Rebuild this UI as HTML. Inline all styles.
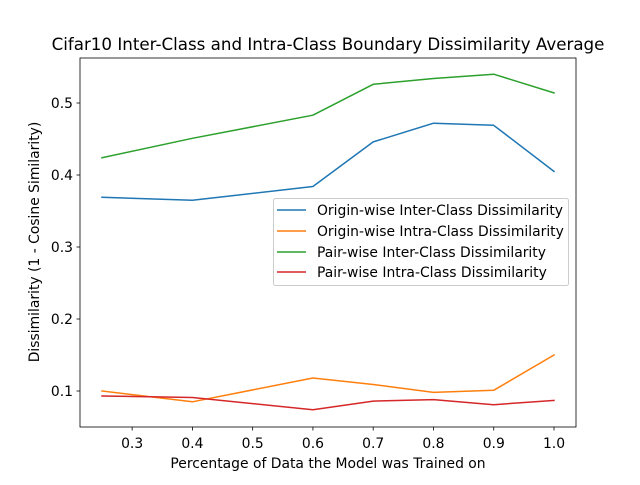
<!DOCTYPE html>
<html><head><meta charset="utf-8"><style>
body{margin:0;background:#fff;}
svg text{font-family:"DejaVu Sans","Liberation Sans",sans-serif;fill:#000;}
</style></head><body>
<svg id="chart" width="640" height="480" xmlns="http://www.w3.org/2000/svg">
<rect width="640" height="480" fill="#fff"/>
<g id="plot"></g>
</svg>
<script>
const xs = [0.25, 0.4, 0.6, 0.7, 0.8, 0.9, 1.0];
const originInter = [0.369, 0.365, 0.384, 0.446, 0.472, 0.469, 0.405];
const originIntra = [0.100, 0.085, 0.118, 0.109, 0.098, 0.101, 0.150];
const pairInter = [0.424, 0.451, 0.483, 0.526, 0.534, 0.540, 0.514];
const pairIntra = [0.093, 0.091, 0.074, 0.086, 0.088, 0.081, 0.087];
const seriesNames = ["Origin-wise Inter-Class Dissimilarity","Origin-wise Intra-Class Dissimilarity","Pair-wise Inter-Class Dissimilarity","Pair-wise Intra-Class Dissimilarity"];
const xTicks = [0.3,0.4,0.5,0.6,0.7,0.8,0.9,1.0];
const xTickLabels = ["0.3","0.4","0.5","0.6","0.7","0.8","0.9","1.0"];
const yTicks = [0.1,0.2,0.3,0.4,0.5];
const yTickLabels = ["0.1","0.2","0.3","0.4","0.5"];

const NS="http://www.w3.org/2000/svg";
const L=80,R=576,T=58,B=427;
const FS=13.9;
const xScale=v=>102+(v-0.25)*602.67;
const yScale=v=>391-(v-0.1)*720;
const g=document.getElementById('plot');
function mk(tag,attrs,parent){const e=document.createElementNS(NS,tag);for(const k in attrs)e.setAttribute(k,attrs[k]);(parent||g).appendChild(e);return e;}
const colors=["#1f77b4","#ff7f0e","#2ca02c","#d62728"];
const allSeries=[originInter,originIntra,pairInter,pairIntra];
const keys=["origin-inter","origin-intra","pair-inter","pair-intra"];

allSeries.forEach((s,i)=>{
  const pts=xs.map((x,j)=>xScale(x).toFixed(1)+","+yScale(s[j]).toFixed(1)).join(" ");
  const pl=mk('polyline',{points:pts,fill:"none",stroke:colors[i],"stroke-width":1.5,"stroke-linejoin":"round","stroke-linecap":"square"});
  
  
});

const frame=mk('rect',{x:L,y:T,width:R-L,height:B-T,fill:"none",stroke:"#000","stroke-width":0.8});



xTicks.forEach((v,i)=>{
  const x=xScale(v);
  const t=mk('line',{x1:x,x2:x,y1:B,y2:B+3.5,stroke:"#000","stroke-width":0.8});
  
  
  const lb=mk('text',{x:x,y:B+21,"text-anchor":"middle","font-size":FS});
  lb.textContent=xTickLabels[i];
  
  
});
yTicks.forEach((v,i)=>{
  const y=yScale(v);
  const t=mk('line',{x1:L-3.5,x2:L,y1:y,y2:y,stroke:"#000","stroke-width":0.8});
  
  
  const lb=mk('text',{x:L-7,y:y+5,"text-anchor":"end","font-size":FS});
  lb.textContent=yTickLabels[i];
  
  
});

const title=mk('text',{x:328,y:50,"text-anchor":"middle","font-size":16.7});
title.textContent="Cifar10 Inter-Class and Intra-Class Boundary Dissimilarity Average";


const xt=mk('text',{x:328,y:468,"text-anchor":"middle","font-size":FS});
xt.textContent="Percentage of Data the Model was Trained on";


const yt=mk('text',{x:0,y:0,"text-anchor":"middle","font-size":FS,transform:"translate(39,242) rotate(-90)"});
yt.textContent="Dissimilarity (1 - Cosine Similarity)";



const lg=mk('g',{});


mk('rect',{x:273.5,y:198.5,width:295,height:87,rx:2,fill:"#fff","fill-opacity":0.8,stroke:"#ccc","stroke-width":1},lg);
const ly=[210,231,252,272];
seriesNames.forEach((n,i)=>{
  const ln=mk('line',{x1:277,x2:306,y1:ly[i],y2:ly[i],stroke:colors[i],"stroke-width":1.5},lg);
  
  
  const tx=mk('text',{x:317,y:ly[i]+5,"font-size":FS},lg);
  tx.textContent=n;
  
  
});
</script>
</body></html>
